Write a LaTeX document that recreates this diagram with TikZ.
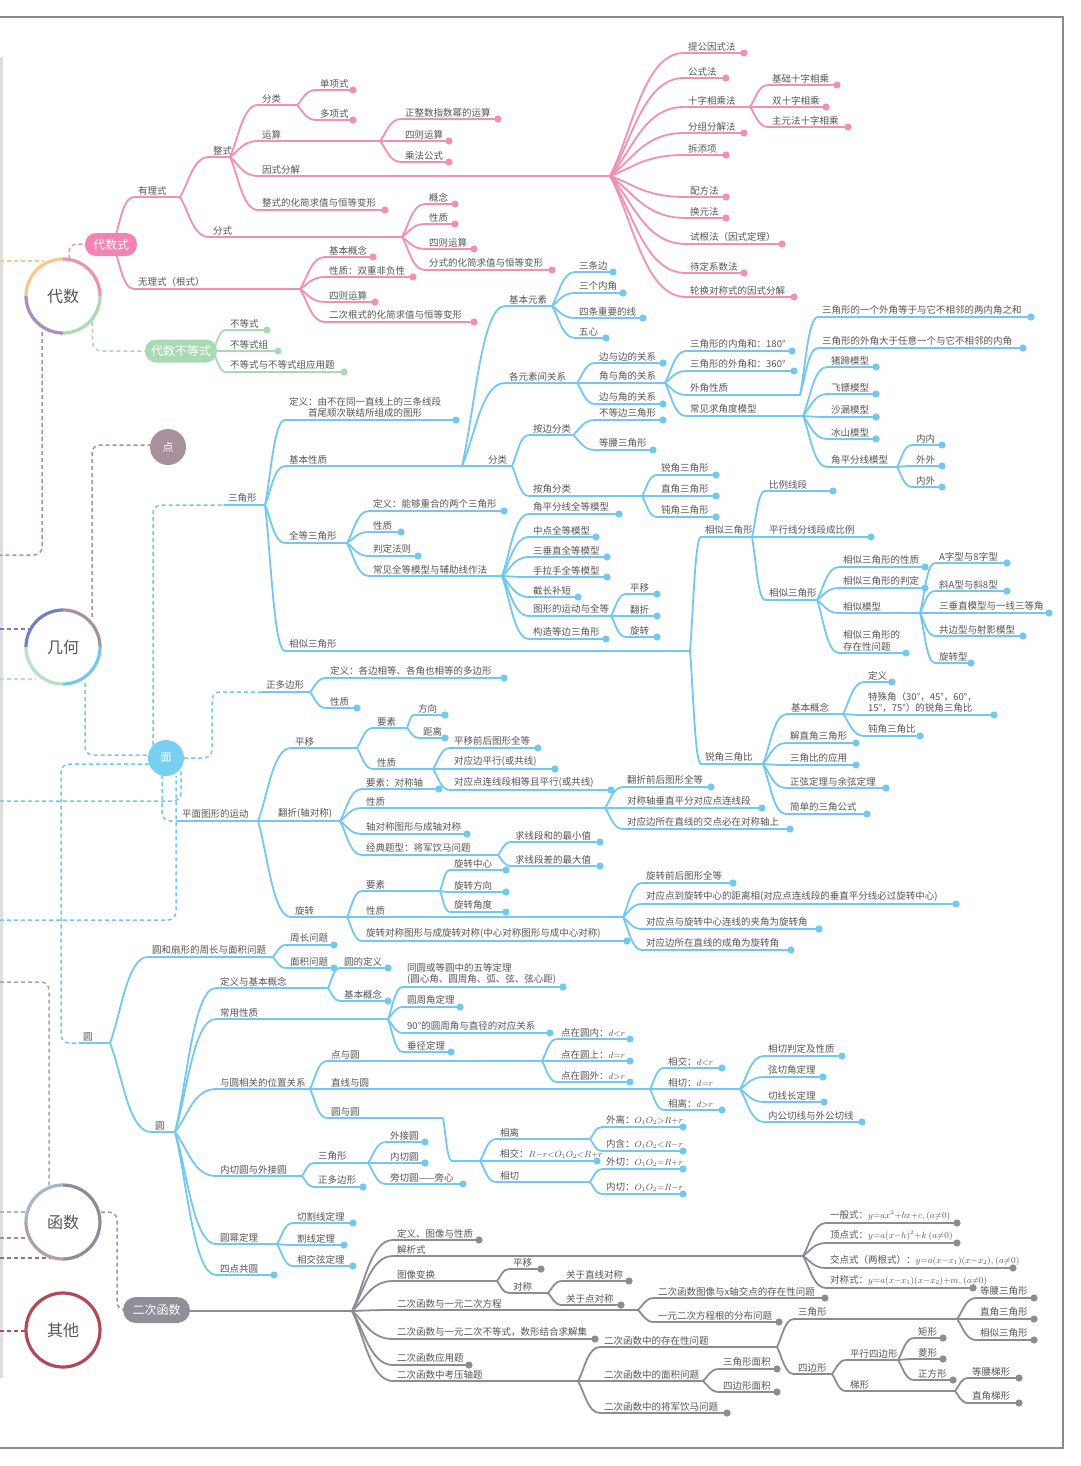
\documentclass[tikz,border=0pt]{standalone}
\usepackage{fontspec}
\setmainfont{Noto Sans CJK SC}
\usetikzlibrary{calc}
\definecolor{pk}{HTML}{F18FB4}
\definecolor{pkb}{HTML}{F283B2}
\definecolor{bl}{HTML}{73C8F0}
\definecolor{blb}{HTML}{79CFF2}
\definecolor{gy}{HTML}{8E8B96}
\definecolor{gyb}{HTML}{918D99}
\definecolor{gn}{HTML}{AADAB4}
\definecolor{txt}{HTML}{555555}
\definecolor{orng}{HTML}{F8C88E}
\definecolor{purp}{HTML}{A98DC0}
\definecolor{dblue}{HTML}{6F80C0}
\definecolor{mauve}{HTML}{A8919D}
\definecolor{lgreen}{HTML}{B8E0C4}
\definecolor{lav}{HTML}{A8B4C8}
\definecolor{brn}{HTML}{B48A7C}
\definecolor{pbr}{HTML}{8E6E88}
\definecolor{fgrey}{HTML}{8E8C98}
\definecolor{fmv}{HTML}{B39DAA}
\definecolor{qred}{HTML}{B04A58}
\definecolor{frame}{HTML}{8A8A8A}
\tikzset{
  conn/.style={line width=1.8pt, line cap=round},
  lbl/.style={font=\fontsize{9.5}{11.5}\selectfont, text=txt, inner sep=0pt, anchor=south west, align=left},
  dsh/.style={line width=1.5pt, dash pattern=on 4pt off 3pt, rounded corners=8pt},
  ringc/.style={line width=3.2pt},
  pill/.style={rounded corners=11pt, text=white, font=\fontsize{12}{14}\selectfont, inner sep=0pt},
  rootlbl/.style={text=txt, font=\fontsize{16}{18}\selectfont, inner sep=0pt},
}
\newcommand\mth[1]{{\fontsize{9}{10}\selectfont$#1$}}
\newcommand\BR[8][]{%
  \coordinate (#4s) at (#5,#6);
  \coordinate (#4) at (#7,#6);
  \draw[conn,#2] let \p1=(#3), \p2=(#4s) in (\p1) .. controls ({\x1+0.3*(\x2-\x1)},{\y1+0.35*(\y2-\y1)}) and ({\x1+0.45*(\x2-\x1)},\y2) .. (\p2) -- (#4);
  \node[lbl,#1] (#4t) at ($(#4s)+(4,-2)$) {#8};
}
\newcommand\LF[8][]{\BR[#1]{#2}{#3}{#4}{#5}{#6}{#7}{#8}\fill[#2] (#4) circle (3.6);}
\newcommand\SEG[6]{\coordinate (#2s) at (#3,#4); \coordinate (#2) at (#5,#4);
  \draw[conn,#1] (#2s)--(#2); \node[lbl] (#2t) at ($(#2s)+(4,-2)$) {#6};}
\newcommand\ringseg[6]{\draw[ringc,#6] plot[domain=#4:#5,samples=25] ({#1+#3*cos(\x)},{#2+#3*sin(\x)});}
\begin{document}
\begin{tikzpicture}[x=1pt,y=-1pt]
\useasboundingbox (0,0) rectangle (1080,1466);
\fill[white] (0,0) rectangle (1080,1466);
% frame
\fill[black!13] (0,57) rectangle (3,1378);
\draw[frame,line width=1.2pt] (0,17) -- (1063,17) -- (1063,1448) -- (0,1448);

% root anchors
\coordinate (dai) at (63,296);
\coordinate (jh) at (63,647);
\coordinate (hs) at (63,1222);
\coordinate (qt) at (63,1330);
\coordinate (dian) at (168,447);
\coordinate (mian) at (166,758);

% dashed links
\draw[dsh,orng] (0,261) -- (44,261);
\draw[dsh,purp] (42,332) -- (42,555) -- (0,555);
\draw[dsh,pk] (69,259) -- (69,244) -- (86,244);
\draw[dsh,gn] (92,322) -- (93,351) -- (146,351);
\draw[dsh,dblue] (0,629) -- (30,629);
\draw[dsh,lgreen] (0,679) -- (36,679);
\draw[dsh,mauve] (92,617) -- (92,445) -- (150,445);
\draw[dsh,bl] (85,683) -- (85,755) -- (148,755);
\draw[dsh,bl] (153,745) -- (153,505) -- (224,505);
\draw[dsh,bl] (184,758) -- (212,758) -- (212,692) -- (262,692);
\draw[dsh,bl] (162,775) -- (162,821) -- (178,821);
\draw[dsh,bl] (149,764) -- (61,764) -- (61,1043) -- (79,1043);
\draw[dsh,bl] (0,801) -- (181,801) -- (181,771);
\draw[dsh,bl] (0,920) -- (176,920) -- (176,776);
\draw[dsh,black!35] (0,982) -- (49,982) -- (49,1185);
\draw[dsh,lav] (0,1212) -- (29,1212);
\draw[dsh,brn] (0,1238) -- (29,1238);
\draw[dsh,pbr] (0,1258) -- (55,1258);
\draw[dsh,black!40] (101,1212) -- (117,1212) -- (117,1310) -- (124,1310);
\draw[dsh,qred] (0,1331) -- (26,1331);

% ===== PINK =====
\coordinate (dsc) at (113,244);
\BR{pk}{dsc}{yl}{134}{197}{180}{有理式}
\BR{pk}{dsc}{wl}{134}{289}{300}{无理式（根式）}
\LF{pk}{wl}{wl1}{325}{257}{373}{基本概念}
\LF{pk}{wl}{wl2}{325}{277}{413}{性质：双重非负性}
\LF{pk}{wl}{wl3}{325}{302}{375}{四则运算}
\LF{pk}{wl}{wl4}{325}{322}{474}{二次根式的化简求值与恒等变形}
\BR{pk}{yl}{zs}{209}{157}{230}{整式}
\BR{pk}{yl}{fs}{209}{237}{402}{分式}
\BR{pk}{zs}{fl}{258}{105}{297}{分类}
\LF{pk}{fl}{fl1}{316}{90}{353}{单项式}
\LF{pk}{fl}{fl2}{316}{120}{353}{多项式}
\BR{pk}{zs}{ys}{258}{141}{380}{运算}
\LF{pk}{ys}{ys1}{401}{119}{498}{正整数指数幂的运算}
\LF{pk}{ys}{ys2}{401}{141}{449}{四则运算}
\LF{pk}{ys}{ys3}{401}{162}{449}{乘法公式}
\BR{pk}{zs}{yf}{258}{176}{610}{因式分解}
\LF{pk}{yf}{yf1}{684}{53}{744}{提公因式法}
\LF{pk}{yf}{yf2}{684}{78}{726}{公式法}
\BR{pk}{yf}{yf3}{684}{107}{750}{十字相乘法}
\LF{pk}{yf3}{yfa}{768}{85}{837}{基础十字相乘}
\LF{pk}{yf3}{yfb}{768}{107}{826}{双十字相乘}
\LF{pk}{yf3}{yfc}{768}{127}{848}{主元法十字相乘}
\LF{pk}{yf}{yf4}{684}{133}{744}{分组分解法}
\LF{pk}{yf}{yf5}{684}{155}{726}{拆添项}
\LF{pk}{yf}{yf6}{686}{197}{726}{配方法}
\LF{pk}{yf}{yf7}{686}{218}{726}{换元法}
\LF{pk}{yf}{yf8}{686}{244}{782}{试根法（因式定理）}
\LF{pk}{yf}{yf9}{686}{273}{744}{待定系数法}
\LF{pk}{yf}{yfz}{686}{297}{794}{轮换对称式的因式分解}
\LF{pk}{zs}{zh}{258}{210}{385}{整式的化简求值与恒等变形}
\LF{pk}{fs}{fs1}{425}{204}{455}{概念}
\LF{pk}{fs}{fs2}{425}{224}{455}{性质}
\LF{pk}{fs}{fs3}{425}{249}{474}{四则运算}
\LF{pk}{fs}{fs4}{425}{270}{552}{分式的化简求值与恒等变形}

% ===== GREEN =====
\coordinate (bdc) at (213,351);
\LF{gn}{bdc}{bd1}{226}{330}{267}{不等式}
\LF{gn}{bdc}{bd2}{226}{351}{278}{不等式组}
\LF{gn}{bdc}{bd3}{226}{372}{344}{不等式与不等式组应用题}

% ===== BLUE: triangle =====
\SEG{bl}{tri}{224}{505}{265}{三角形}
\LF[align=center]{bl}{tri}{dy}{285}{420}{456}{定义：由不在同一直线上的三条线段\\首尾顺次联结所组成的图形}
\BR{bl}{tri}{jx}{285}{466}{462}{基本性质}
\BR{bl}{jx}{jy}{505}{306}{552}{基本元素}
\LF{bl}{jy}{jy1}{575}{272}{613}{三条边}
\LF{bl}{jy}{jy2}{575}{293}{623}{三个内角}
\LF{bl}{jy}{jy3}{575}{318}{643}{四条重要的线}
\LF{bl}{jy}{jy4}{575}{338}{606}{五心}
\BR{bl}{jx}{gx}{505}{383}{577}{各元素间关系}
\LF{bl}{gx}{gx1}{595}{363}{663}{边与边的关系}
\BR{bl}{gx}{gx2}{595}{383}{665}{角与角的关系}
\LF{bl}{gx}{gx3}{595}{404}{663}{边与角的关系}
\LF{bl}{gx2}{ga1}{686}{351}{792}{三角形的内角和：180°}
\LF{bl}{gx2}{ga2}{686}{371}{794}{三角形的外角和：360°}
\BR{bl}{gx2}{ga3}{686}{395}{800}{外角性质}
\BR{bl}{gx2}{ga4}{686}{416}{803}{常见求角度模型}
\LF{bl}{ga3}{gw1}{818}{317}{1031}{三角形的一个外角等于与它不相邻的两内角之和}
\LF{bl}{ga3}{gw2}{818}{348}{1023}{三角形的外角大于任意一个与它不相邻的内角}
\LF{bl}{ga4}{gm1}{827}{367}{876}{猪蹄模型}
\LF{bl}{ga4}{gm2}{827}{394}{876}{飞镖模型}
\LF{bl}{ga4}{gm3}{827}{417}{876}{沙漏模型}
\LF{bl}{ga4}{gm4}{827}{439}{876}{冰山模型}
\BR{bl}{ga4}{gm5}{827}{467}{897}{角平分线模型}
\LF{bl}{gm5}{gp1}{912}{445}{942}{内内}
\LF{bl}{gm5}{gp2}{912}{466}{942}{外外}
\LF{bl}{gm5}{gp3}{912}{487}{942}{内外}
\BR{bl}{jx}{tf}{484}{466}{512}{分类}
\BR{bl}{tf}{tb}{529}{435}{573}{按边分类}
\LF{bl}{tb}{tb1}{595}{420}{663}{不等边三角形}
\LF{bl}{tb}{tb2}{595}{450}{653}{等腰三角形}
\BR{bl}{tf}{ta}{529}{496}{642}{按角分类}
\LF{bl}{ta}{ta1}{657}{475}{716}{锐角三角形}
\LF{bl}{ta}{ta2}{657}{496}{716}{直角三角形}
\LF{bl}{ta}{ta3}{657}{517}{716}{钝角三角形}
\BR{bl}{tri}{qd}{285}{543}{347}{全等三角形}
\LF{bl}{qd}{qd1}{369}{511}{504}{定义：能够重合的两个三角形}
\LF{bl}{qd}{qd2}{369}{532}{401}{性质}
\LF{bl}{qd}{qd3}{369}{556}{418}{判定法则}
\BR{bl}{qd}{qd4}{369}{576}{502}{常见全等模型与辅助线作法}
\LF{bl}{qd4}{qm1}{529}{514}{619}{角平分线全等模型}
\LF{bl}{qd4}{qm2}{529}{537}{596}{中点全等模型}
\LF{bl}{qd4}{qm3}{529}{557}{607}{三垂直全等模型}
\LF{bl}{qd4}{qm4}{529}{577}{607}{手拉手全等模型}
\LF{bl}{qd4}{qm5}{529}{597}{578}{截长补短}
\BR{bl}{qd4}{qm6}{529}{616}{611}{图形的运动与全等}
\LF{bl}{qm6}{qy1}{626}{594}{657}{平移}
\LF{bl}{qm6}{qy2}{626}{616}{657}{翻折}
\LF{bl}{qm6}{qy3}{626}{637}{657}{旋转}
\LF{bl}{qd4}{qm7}{529}{639}{606}{构造等边三角形}
\BR{bl}{tri}{xsa}{285}{651}{690}{相似三角形}
\BR{bl}{xsa}{xsb}{701}{537}{752}{相似三角形}
\LF{bl}{xsb}{xb1}{765}{491}{833}{比例线段}
\LF{bl}{xsb}{xb2}{765}{537}{871}{平行线分线段成比例}
\BR{bl}{xsb}{xsc}{765}{600}{817}{相似三角形}
\LF{bl}{xsc}{xc1}{839}{567}{925}{相似三角形的性质}
\LF{bl}{xsc}{xc2}{839}{588}{925}{相似三角形的判定}
\BR{bl}{xsc}{xc3}{839}{613}{920}{相似模型}
\LF{bl}{xsc}{xc4}{839}{653}{906}{相似三角形的\\存在性问题}
\LF{bl}{xc3}{xm1}{935}{563}{1007}{A字型与8字型}
\LF{bl}{xc3}{xm2}{935}{591}{1007}{斜A型与斜8型}
\LF{bl}{xc3}{xm3}{935}{613}{1049}{三垂直模型与一线三等角}
\LF{bl}{xc3}{xm4}{935}{636}{1023}{共边型与射影模型}
\LF{bl}{xc3}{xm5}{935}{663}{971}{旋转型}
\BR{bl}{xsa}{rj}{701}{764}{763}{锐角三角比}
\BR{bl}{rj}{rja}{787}{714}{843}{基本概念}
\LF{bl}{rja}{rg1}{864}{682}{892}{定义}
\LF{bl}{rja}{rg2}{864}{715}{994}{特殊角（30°，45°，60°，\\15°，75°）的锐角三角比}
\LF{bl}{rja}{rg3}{864}{736}{920}{钝角三角比}
\LF{bl}{rj}{rjb}{786}{743}{856}{解直角三角形}
\LF{bl}{rj}{rjc}{786}{765}{856}{三角比的应用}
\LF{bl}{rj}{rjd}{786}{788}{886}{正弦定理与余弦定理}
\LF{bl}{rj}{rje}{786}{814}{867}{简单的三角公式}

% ===== BLUE: regular polygon =====
\SEG{bl}{zd}{262}{692}{310}{正多边形}
\LF{bl}{zd}{zd1}{326}{678}{504}{定义：各边相等、各角也相等的多边形}
\LF{bl}{zd}{zd2}{326}{708}{357}{性质}

% ===== BLUE: motion =====
\SEG{bl}{pm}{178}{821}{258}{平面图形的运动}
\BR{bl}{pm}{py}{291}{748}{357}{平移}
\BR{bl}{py}{pya}{373}{728}{407}{要素}
\LF{bl}{pya}{pyy1}{414}{715}{445}{方向}
\LF{bl}{pya}{pyy2}{419}{738}{445}{距离}
\BR{bl}{py}{pyb}{373}{769}{433}{性质}
\LF{bl}{pyb}{pyx1}{450}{748}{538}{平移前后图形全等}
\LF{bl}{pyb}{pyx2}{450}{769}{555}{对应边平行(或共线)}
\LF{bl}{pyb}{pyx3}{450}{790}{611}{对应点连线段相等且平行(或共线)}
\BR{bl}{pm}{pz}{274}{821}{340}{翻折(轴对称)}
\LF{bl}{pz}{pza}{362}{789}{439}{要素：对称轴}
\BR{bl}{pz}{pzb}{362}{808}{605}{性质}
\LF{bl}{pzb}{pzx1}{623}{787}{711}{翻折前后图形全等}
\LF{bl}{pzb}{pzx2}{623}{808}{762}{对称轴垂直平分对应点连线段}
\LF{bl}{pzb}{pzx3}{623}{829}{790}{对应边所在直线的交点必在对称轴上}
\LF{bl}{pz}{pzc}{362}{834}{467}{轴对称图形与成轴对称}
\BR{bl}{pz}{pzd}{362}{855}{498}{经典题型：将军饮马问题}
\LF{bl}{pzd}{pzj1}{511}{842}{600}{求线段和的最小值}
\LF{bl}{pzd}{pzj2}{511}{866}{600}{求线段差的最大值}
\BR{bl}{pm}{px}{291}{917}{347}{旋转}
\BR{bl}{px}{pxa}{362}{891}{440}{要素}
\LF{bl}{pxa}{pxy1}{450}{870}{506}{旋转中心}
\LF{bl}{pxa}{pxy2}{450}{892}{506}{旋转方向}
\LF{bl}{pxa}{pxy3}{450}{912}{506}{旋转角度}
\BR{bl}{px}{pxb}{362}{917}{623}{性质}
\LF{bl}{pxb}{pxx1}{642}{883}{733}{旋转前后图形全等}
\LF{bl}{pxb}{pxx2}{642}{904}{956}{对应点到旋转中心的距离相(对应点连线段的垂直平分线必过旋转中心)}
\LF{bl}{pxb}{pxx3}{642}{929}{819}{对应点与旋转中心连线的夹角为旋转角}
\LF{bl}{pxb}{pxx4}{642}{950}{791}{对应边所在直线的成角为旋转角}
\LF{bl}{px}{pxc}{362}{941}{627}{旋转对称图形与成旋转对称(中心对称图形与成中心对称)}

% ===== BLUE: circle =====
\SEG{bl}{yu}{79}{1043}{110}{圆}
\BR{bl}{yu}{yz}{148}{957}{273}{圆和扇形的周长与面积问题}
\LF{bl}{yz}{yz1}{286}{945}{334}{周长问题}
\LF{bl}{yz}{yz2}{286}{968}{334}{面积问题}
\BR{bl}{yu}{yy}{151}{1132}{175}{圆}
\BR{bl}{yy}{yd}{216}{988}{328}{定义与基本概念}
\LF{bl}{yd}{yd1}{340}{968}{388}{圆的定义}
\LF{bl}{yd}{yd2}{340}{1001}{388}{基本概念}
\BR{bl}{yy}{yc}{216}{1019}{388}{常用性质}
\LF{bl}{yc}{yc1}{403}{987}{563}{同圆或等圆中的五等定理\\(圆心角、圆周角、弧、弦、弦心距)}
\LF{bl}{yc}{yc2}{403}{1007}{460}{圆周角定理}
\LF{bl}{yc}{yc3}{403}{1033}{550}{90°的圆周角与直径的对应关系}
\LF{bl}{yc}{yc4}{403}{1052}{451}{垂径定理}
\BR{bl}{yy}{yw}{216}{1089}{310}{与圆相关的位置关系}
\BR{bl}{yw}{ywa}{327}{1061}{542}{点与圆}
\LF{bl}{ywa}{yp1}{557}{1039}{630}{点在圆内：\mth{d{<}r}}
\LF{bl}{ywa}{yp2}{557}{1061}{630}{点在圆上：\mth{d{=}r}}
\LF{bl}{ywa}{yp3}{557}{1082}{630}{点在圆外：\mth{d{>}r}}
\BR{bl}{yw}{ywb}{327}{1089}{650}{直线与圆}
\LF{bl}{ywb}{yla}{664}{1068}{722}{相交：\mth{d{<}r}}
\BR{bl}{ywb}{ylb}{664}{1089}{740}{相切：\mth{d{=}r}}
\LF{bl}{ywb}{ylc}{664}{1110}{722}{相离：\mth{d{>}r}}
\LF{bl}{ylb}{yq1}{764}{1056}{842}{相切判定及性质}
\LF{bl}{ylb}{yq2}{764}{1077}{823}{弦切角定理}
\LF{bl}{ylb}{yq3}{764}{1102}{824}{切线长定理}
\LF{bl}{ylb}{yq4}{764}{1122}{862}{内公切线与外公切线}
\BR{bl}{yw}{ywc}{327}{1118}{443}{圆与圆}
\BR{bl}{ywc}{yr}{452}{1161}{480}{}
\BR{bl}{yr}{yra}{496}{1139}{590}{相离}
\LF{bl}{yr}{yrb}{496}{1161}{597}{相交：\mth{R{-}r{<}O_1O_2{<}R{+}r}}
\BR{bl}{yr}{yrc}{496}{1182}{590}{相切}
\LF{bl}{yra}{yrl1}{602}{1127}{683}{外离：\mth{O_1O_2{>}R{+}r}}
\LF{bl}{yra}{yrl2}{602}{1151}{683}{内含：\mth{O_1O_2{<}R{-}r}}
\LF{bl}{yrc}{yrq1}{602}{1169}{683}{外切：\mth{O_1O_2{=}R{+}r}}
\LF{bl}{yrc}{yrq2}{602}{1194}{683}{内切：\mth{O_1O_2{=}R{-}r}}
\BR{bl}{yy}{yn}{216}{1176}{302}{内切圆与外接圆}
\BR{bl}{yn}{yna}{314}{1163}{368}{三角形}
\LF{bl}{yna}{yns1}{386}{1142}{425}{外接圆}
\LF{bl}{yna}{yns2}{386}{1163}{425}{内切圆}
\LF{bl}{yna}{yns3}{386}{1184}{463}{旁切圆——旁心}
\LF{bl}{yn}{ynb}{314}{1187}{363}{正多边形}
\BR{bl}{yy}{ym}{216}{1244}{277}{圆幂定理}
\LF{bl}{ym}{ym1}{293}{1223}{353}{切割线定理}
\LF{bl}{ym}{ym2}{293}{1245}{344}{割线定理}
\LF{bl}{ym}{ym3}{293}{1266}{353}{相交弦定理}
\LF{bl}{yy}{ysd}{216}{1275}{274}{四点共圆}

% ===== GREY: quadratic =====
\coordinate (ecb) at (185,1311);
\coordinate (ec) at (352,1311);
\draw[conn,gy] (ecb) -- (ec);
\LF{gy}{ec}{e1}{393}{1240}{479}{定义、图像与性质}
\BR{gy}{ec}{e2}{393}{1256}{803}{解析式}
\LF{gy}{e2}{e2a}{826}{1223}{957}{一般式：\mth{y{=}ax^2{+}bx{+}c,}\,\mth{(a{\neq}0)}}
\LF{gy}{e2}{e2b}{826}{1243}{957}{顶点式：\mth{y{=}a(x{-}h)^2{+}k}\ \mth{(a{\neq}0)}}
\LF{gy}{e2}{e2c}{826}{1268}{1013}{交点式（两根式）：\mth{y{=}a(x{-}x_1)(x{-}x_2),}\ \mth{(a{\neq}0)}}
\LF{gy}{e2}{e2d}{826}{1288}{973}{对称式：\mth{y{=}a(x{-}x_1)(x{-}x_2){+}m,}\ \mth{(a{\neq}0)}}
\BR{gy}{ec}{e3}{393}{1281}{497}{图像变换}
\LF{gy}{e3}{e3a}{509}{1269}{541}{平移}
\BR{gy}{e3}{e3b}{509}{1293}{548}{对称}
\LF{gy}{e3b}{e3b1}{562}{1281}{629}{关于直线对称}
\LF{gy}{e3b}{e3b2}{562}{1305}{621}{关于点对称}
\BR{gy}{ec}{e4}{393}{1310}{638}{二次函数与一元二次方程}
\LF{gy}{e4}{e4a}{654}{1298}{825}{二次函数图像与x轴交点的存在性问题}
\LF{gy}{e4}{e4b}{654}{1322}{779}{一元二次方程根的分布问题}
\LF{gy}{ec}{e5}{393}{1339}{595}{二次函数与一元二次不等式，数形结合求解集}
\LF{gy}{ec}{e6}{393}{1365}{469}{二次函数应用题}
\BR{gy}{ec}{e7}{393}{1381}{578}{二次函数中考压轴题}
\BR{gy}{e7}{e7a}{600}{1347}{777}{二次函数中的存在性问题}
\BR{gy}{e7a}{e7a1}{794}{1319}{957}{三角形}
\LF{gy}{e7a1}{e7a11}{976}{1298}{1034}{等腰三角形}
\LF{gy}{e7a1}{e7a12}{976}{1319}{1034}{直角三角形}
\LF{gy}{e7a1}{e7a13}{976}{1340}{1034}{相似三角形}
\BR{gy}{e7a}{e7a2}{794}{1374}{832}{四边形}
\BR{gy}{e7a2}{e7p}{846}{1360}{898}{平行四边形}
\LF{gy}{e7p}{e7p1}{914}{1338}{943}{矩形}
\LF{gy}{e7p}{e7p2}{914}{1359}{943}{菱形}
\LF{gy}{e7p}{e7p3}{914}{1380}{953}{正方形}
\BR{gy}{e7a2}{e7t}{846}{1391}{955}{梯形}
\LF{gy}{e7t}{e7t1}{968}{1378}{1019}{等腰梯形}
\LF{gy}{e7t}{e7t2}{968}{1403}{1019}{直角梯形}
\BR{gy}{e7}{e7b}{600}{1381}{703}{二次函数中的面积问题}
\LF{gy}{e7b}{e7b1}{719}{1369}{777}{三角形面积}
\LF{gy}{e7b}{e7b2}{719}{1392}{777}{四边形面积}
\LF{gy}{e7}{e7c}{600}{1413}{727}{二次函数中的将军饮马问题}

% ===== boxes and circles =====
\node[pill, fill=pkb, minimum width=52pt, minimum height=23pt] (dsbox) at (111,244.5) {代数式};
\node[pill, fill=gn, minimum width=72pt, minimum height=23pt] (bdbox) at (181,351) {代数不等式};
\node[pill, fill=gyb, minimum width=67pt, minimum height=26pt, rounded corners=13pt] (ecbox) at (156.5,1310) {二次函数};
\node[circle, fill=mauve, minimum size=36pt, inner sep=0pt, text=white, font=\fontsize{11}{12}\selectfont] (diannode) at (dian) {点};
\node[circle, fill=blb, minimum size=36pt, inner sep=0pt, text=white, font=\fontsize{11}{12}\selectfont] (miannode) at (mian) {面};

\fill[white] (dai) circle (36);
\ringseg{63}{296}{37}{180}{270}{orng}
\ringseg{63}{296}{37}{270}{360}{pk}
\ringseg{63}{296}{37}{0}{90}{gn}
\ringseg{63}{296}{37}{90}{180}{purp}
\node[rootlbl] (dait) at (dai) {代数};

\fill[white] (jh) circle (36);
\ringseg{63}{647}{37}{180}{270}{dblue}
\ringseg{63}{647}{37}{270}{360}{mauve}
\ringseg{63}{647}{37}{0}{90}{bl}
\ringseg{63}{647}{37}{90}{180}{lgreen}
\node[rootlbl] (jht) at (jh) {几何};

\fill[white] (hs) circle (36);
\ringseg{63}{1222}{37}{180}{270}{lav}
\ringseg{63}{1222}{37}{270}{450}{fgrey}
\ringseg{63}{1222}{37}{90}{180}{fmv}
\node[rootlbl] (hst) at (hs) {函数};

\fill[white] (qt) circle (36);
\draw[ringc, qred] (qt) circle (37);
\node[rootlbl] (qtt) at (qt) {其他};
\end{tikzpicture}
\end{document}
